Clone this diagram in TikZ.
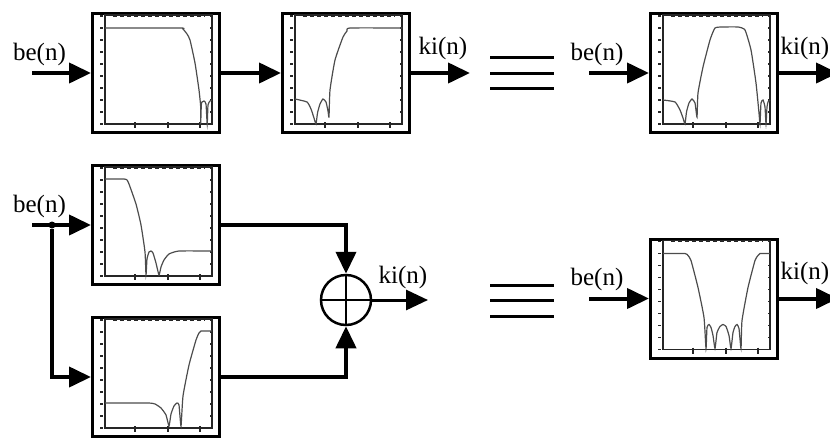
\documentclass[tikz,border=0pt]{standalone}
\usepackage{fontspec}
\setmainfont{Liberation Serif}
\usetikzlibrary{positioning,arrows.meta}
\tikzset{
    filter/.style={draw, line width=3pt, minimum width=127pt, minimum height=119pt, inner sep=0pt},
    sig/.style={line width=4pt, -{Triangle[length=22pt,width=20pt]}},
    siglabel/.style={font=\fontsize{25}{28}\selectfont, inner sep=0pt},
    eqbar/.style={line width=3pt},
    axisline/.style={line width=1.2pt, black!85},
    response/.style={line width=1.2pt, black!70}
}
\newcommand{\filterplot}[2]{
    \begin{scope}[shift={([shift={(-51,-58)}]#1.center)}]
        \draw[axisline] (0,0) rectangle (107,109);
        \draw[line width=1.8pt, black!85, dash pattern=on 4pt off 3pt] (8,1) -- (100,1);
        \foreach \ty in {1,13,25,37,49,61,73,85,97,109} {
            \draw[line width=1.5pt, black!85] (-5,\ty) -- (-2,\ty);
            \draw[axisline] (105,\ty) -- (107,\ty);
        }
        \foreach \tx in {30,63,95} {
            \draw[axisline] (\tx,107) -- (\tx,113);
        }
        \draw[response] plot[smooth, tension=0.3] coordinates {#2};
    \end{scope}
}
\begin{document}
\begin{tikzpicture}[x=1pt, y=-1pt]
    \useasboundingbox (0,0) rectangle (830,437);

    % top row
    \node[filter] (lowpass) at (156,73) {};
    \node[filter, right=60pt of lowpass] (highpass) {};
    \node[filter] (bandpass) at (714,73) {};
    \coordinate (in1) at (32,73);
    \coordinate (out2) at (470,73);
    \coordinate (in3) at (589,73);
    \coordinate (out3) at (838,73);
    \node[siglabel, above=7pt of in1, xshift=7.5pt] (be1) {be(n)};
    \node[siglabel, above=13pt of out2, xshift=-27pt] (ki1) {ki(n)};
    \node[siglabel, above=7pt of in3, xshift=8pt] (be2) {be(n)};
    \node[siglabel, above=13pt of out3, xshift=-33pt] (ki2) {ki(n)};
    \draw[sig] (in1) -- (lowpass.west);
    \draw[sig] (lowpass.east) -- (highpass.west);
    \draw[sig] (highpass.east) -- (out2);
    \draw[sig] (in3) -- (bandpass.west);
    \draw[sig] (bandpass.east) -- (out3);
    \foreach \ey in {57,73,88} {
        \draw[eqbar] (490,\ey) -- (554,\ey);
    }

    % bottom row
    \node[filter] (lowband) at (156,225) {};
    \node[filter] (highband) at (156,377) {};
    \node[filter] (stopband) at (714,298.5) {};
    \node[circle, draw, line width=2.5pt, minimum size=50pt, inner sep=0pt] (adder) at (346,300) {};
    \coordinate (in4) at (32,225);
    \coordinate (out4) at (428,300);
    \coordinate (in5) at (589,298.5);
    \coordinate (out5) at (838,298.5);
    \node[circle, fill, inner sep=0pt, minimum size=7pt] (tap) at (52,225) {};
    \node[siglabel, above=7pt of in4, xshift=7.5pt] (be3) {be(n)};
    \node[siglabel, above=11pt of out4, xshift=-25pt] (ki3) {ki(n)};
    \node[siglabel, above=7pt of in5, xshift=8pt] (be4) {be(n)};
    \node[siglabel, above=13pt of out5, xshift=-33pt] (ki4) {ki(n)};
    \draw[sig] (in4) -- (lowband.west);
    \draw[sig] (tap) |- (highband.west);
    \draw[sig] (lowband.east) -| (adder.north);
    \draw[sig] (highband.east) -| (adder.south);
    \draw[line width=2.5pt] (adder.north) -- (adder.south);
    \draw[line width=2.5pt] (adder.west) -- (adder.east);
    \draw[sig, line width=3pt] (adder.east) -- (out4);
    \draw[sig] (in5) -- (stopband.west);
    \draw[sig] (stopband.east) -- (out5);
    \foreach \ey in {285,300,316} {
        \draw[eqbar] (490,\ey) -- (554,\ey);
    }

    % responses
    \filterplot{lowpass}{(0,13) (75,13) (78,14) (82,19) (85,25) (90,48) (94,75) (95.7,92) (95.7,109) (96.3,90) (97,87) (99,86) (101,89) (102.2,109) (103,90) (105,86) (107,85)}
    \filterplot{highpass}{(0,84) (12,87) (16,94) (19,103) (21,109) (22.5,98) (25,89) (28,84) (31,87) (33,96) (34,102) (35,75) (40,45) (48,22) (52,16) (55,13) (107,13)}
    \filterplot{bandpass}{(0,85) (12,87) (17,95) (20,103) (22,109) (23.5,97) (26,88) (29,84) (32,88) (34,102) (35,78) (40,52) (47,25) (52,13) (60,12) (75,12) (82,15) (88,35) (93,68) (96,98) (97,109) (98,88) (100,85) (102,92) (103,109) (104,92) (105,87) (107,85)}
    \filterplot{lowband}{(0,12) (19,12) (22,13) (24,17) (31,37) (36,58) (40,85) (41,108) (42,92) (44,85) (46,84) (48,86) (51,96) (54,108) (56,100) (59,93) (64,87) (74,84) (107,84)}
    \filterplot{highband}{(0,84) (43,84) (50,85) (56,89) (61,96) (64,107) (66,95) (69,87) (72,84) (74,86) (76,107) (78,77) (84,46) (91,21) (94,14) (96,12) (107,12)}
    \filterplot{stopband}{(0,13) (22,13) (25,15) (28,20) (35,47) (41,77) (43,108) (44,87) (46,84) (48,87) (50,95) (52,108) (54,92) (57,86) (60,84) (63,86) (66,95) (68,108) (70,92) (72,86) (74,84) (76,88) (78,108) (79,80) (85,47) (92,20) (95,15) (97,13) (107,13)}
\end{tikzpicture}
\end{document}
